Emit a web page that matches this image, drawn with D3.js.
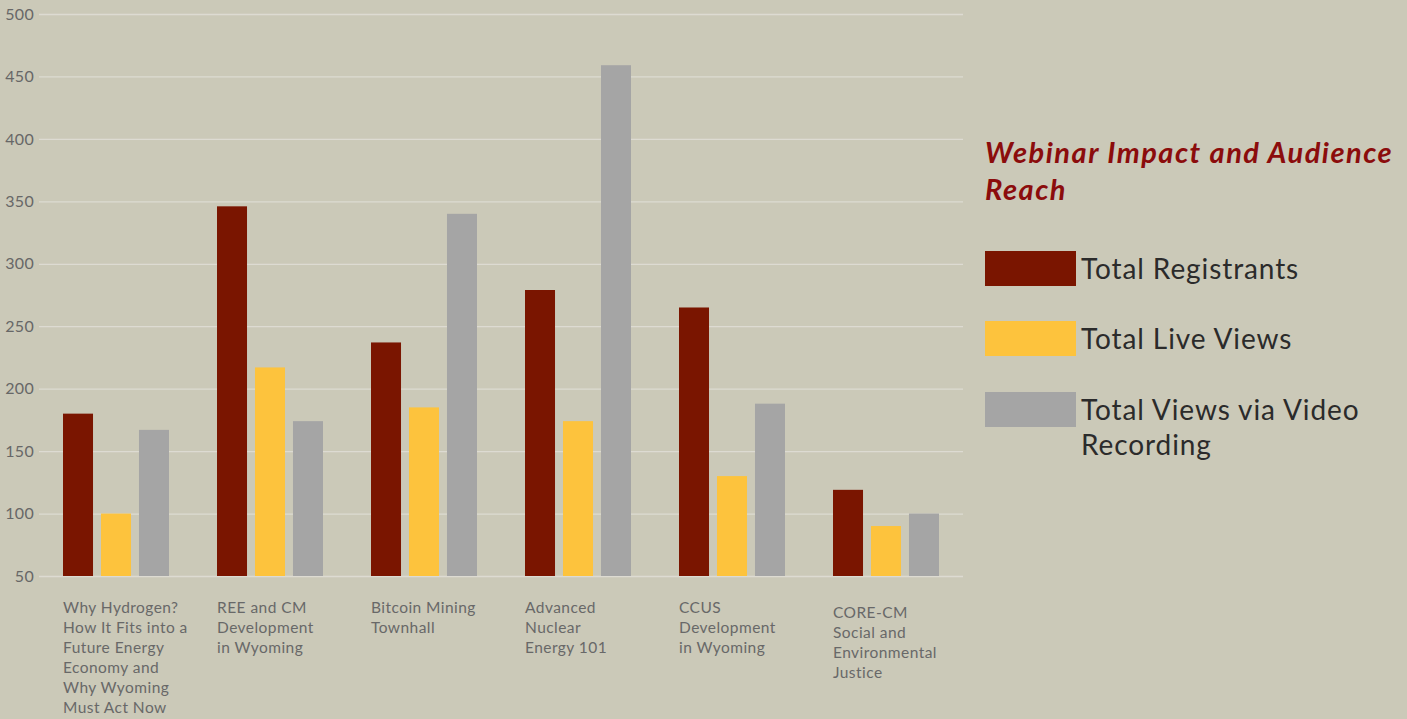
<!DOCTYPE html>
<html>
<head>
<meta charset="utf-8">
<script src="https://cdn.jsdelivr.net/npm/d3@7"></script>
<style>
  html, body { margin: 0; padding: 0; background: #cbc9b8; }
  svg { display: block; }
  text { font-family: Lato, "Open Sans", sans-serif; }
</style>
</head>
<body>
<svg id="chart" width="1407" height="719"></svg>
<script>
// Webinar titles, one entry per line of the wrapped label
const categories = [
  ["Why Hydrogen?", "How It Fits into a", "Future Energy", "Economy and", "Why Wyoming", "Must Act Now"],
  ["REE and CM", "Development", "in Wyoming"],
  ["Bitcoin Mining", "Townhall"],
  ["Advanced", "Nuclear", "Energy 101"],
  ["CCUS", "Development", "in Wyoming"],
  ["CORE-CM", "Social and", "Environmental", "Justice"]
];
const seriesNames = ["Total Registrants", "Total Live Views", "Total Views via Video Recording"];
const registrants = [180, 346, 237, 279, 265, 119];
const liveViews   = [100, 217, 185, 174, 130, 90];
const videoViews  = [167, 174, 340, 459, 188, 100];
const yTicks = [50, 100, 150, 200, 250, 300, 350, 400, 450, 500];
const colors = ["#7a1500", "#fdc33d", "#a5a5a5"];

const seriesValues = [registrants, liveViews, videoViews];
const rows = categories.map((c, i) => ({
  key: i,
  lines: c,
  values: seriesValues.map((s, j) => ({ series: j, value: s[i] }))
}));

const svg = d3.select("#chart");
const plot = { left: 39, right: 963, top: 14, bottom: 576 };

const y = d3.scaleLinear().domain([50, 500]).range([plot.bottom, plot.top]);
const x0 = d3.scaleBand().domain(rows.map(r => r.key)).range([plot.left, plot.right]);
const x1 = d3.scaleBand().domain(d3.range(3)).range([24, x0.bandwidth() - 24]).paddingInner(0.21);

// horizontal gridlines and value labels
const yAxis = d3.axisLeft(y).tickValues(yTicks).tickSize(-(plot.right - plot.left)).tickPadding(5);
const gy = svg.append("g").attr("transform", `translate(${plot.left},0)`).call(yAxis);
gy.select(".domain").remove();
gy.selectAll(".tick line").attr("stroke", "#dddbd2").attr("stroke-width", 1.3);
gy.selectAll(".tick text")
  .attr("fill", "#676767")
  .attr("font-size", 16)
  .attr("letter-spacing", 0.3)
  .attr("font-family", "Lato, sans-serif");

// grouped bars
const groups = svg.append("g").selectAll("g").data(rows).join("g")
  .attr("transform", d => `translate(${x0(d.key)},0)`);
groups.selectAll("rect").data(d => d.values).join("rect")
  .attr("x", d => x1(d.series))
  .attr("width", x1.bandwidth())
  .attr("y", d => y(d.value))
  .attr("height", d => y(50) - y(d.value))
  .attr("fill", d => colors[d.series]);

// wrapped category labels
const labels = svg.append("g").selectAll("text").data(rows).join("text")
  .attr("x", d => x0(d.key) + x1(0))
  .attr("y", d => 613 + (d.key === 5 ? 5 : 0))
  .attr("fill", "#686868")
  .attr("font-size", 15.5)
  .attr("letter-spacing", 0.45);
labels.selectAll("tspan").data(d => d.lines).join("tspan")
  .attr("x", function () { return d3.select(this.parentNode).attr("x"); })
  .attr("dy", (d, i) => i === 0 ? 0 : 20)
  .text(d => d);

// title
const title = svg.append("text")
  .attr("x", 985).attr("y", 163)
  .attr("fill", "#8b0c0c")
  .attr("font-size", 29)
  .attr("font-style", "italic")
  .attr("font-weight", "bold")
  .attr("letter-spacing", 1.5);
title.append("tspan").attr("x", 985).text("Webinar Impact and Audience");
title.append("tspan").attr("x", 985).attr("dy", 37).text("Reach");

// legend
const legendTops = [251, 321, 392];
const legend = svg.append("g").selectAll("g").data(seriesNames).join("g");
legend.append("rect")
  .attr("x", 985).attr("y", (d, i) => legendTops[i])
  .attr("width", 91).attr("height", 35)
  .attr("fill", (d, i) => colors[i]);
const legendText = legend.append("text")
  .attr("x", 1081).attr("y", (d, i) => legendTops[i] + 28)
  .attr("fill", "#2b2b2b")
  .attr("font-size", 28)
  .attr("letter-spacing", 0.9);
legendText.each(function (d) {
  const t = d3.select(this);
  const parts = d === "Total Views via Video Recording" ? ["Total Views via Video", "Recording"] : [d];
  parts.forEach((p, k) => t.append("tspan").attr("x", 1081).attr("dy", k === 0 ? 0 : 35).text(p));
});
</script>
</body>
</html>
